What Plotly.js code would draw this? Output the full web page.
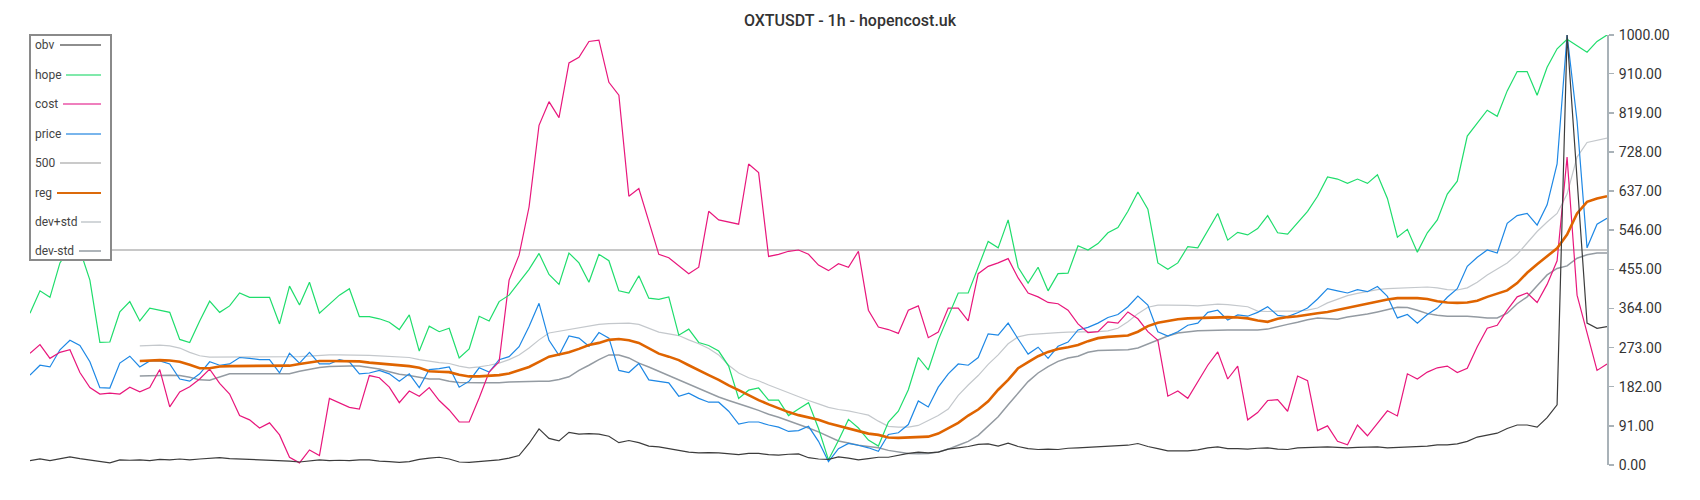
<!DOCTYPE html>
<html><head><meta charset="utf-8">
<script src="https://cdn.plot.ly/plotly-3.0.1.min.js"></script>
<style>html,body{margin:0;padding:0;background:#fff}#chart{width:1700px;height:500px}</style>
</head><body><div id="chart"></div>
<script>
// ---- data ----
const seriesNames = ["obv","hope","cost","price","500","reg","dev+std","dev-std"];
const hope = [353,405,390,470,505,500,430,285,286,356,
380,335,365,360,355,292,285,335,381,355,
370,400,390,390,390,328,416,372,425,353,
375,395,410,345,345,340,332,315,349,265,
323,310,318,249,270,346,335,380,395,425,
455,492,443,420,493,470,425,490,475,405,
400,440,388,385,391,302,316,285,278,265,
230,155,174,179,151,151,115,130,145,85,
12,57,106,86,58,44,100,125,175,250,
221,291,345,400,400,460,520,505,570,460,
423,460,405,445,446,510,500,515,540,552,
590,635,595,470,455,470,508,505,545,585,
523,541,535,550,580,540,537,563,590,625,
670,665,655,665,655,675,620,530,548,495,
540,570,630,660,765,795,825,811,870,915,
915,860,925,968,990,975,960,985,1000];
const cost = [260,280,248,262,268,215,180,165,167,165,
181,170,180,222,135,170,182,200,223,190,
165,115,105,86,98,70,18,5,35,22,
155,145,134,130,208,203,181,145,172,160,
180,150,128,100,100,156,216,240,430,488,
600,790,845,808,935,948,985,988,890,860,
625,643,565,490,482,463,445,460,590,570,
565,560,700,680,485,490,497,500,490,465,
452,468,460,497,360,321,315,306,360,370,
296,309,365,365,335,445,462,470,480,435,
400,391,378,375,360,328,308,310,333,330,
356,340,310,290,160,172,155,195,232,263,
200,230,105,122,150,152,125,207,196,80,
91,55,47,93,68,97,126,114,212,200,
216,226,230,215,225,275,318,325,360,391,
400,378,420,475,716,395,310,220,235];
const price = [209,232,228,268,290,278,240,180,179,237,
253,228,242,242,235,200,195,212,240,232,
235,250,248,245,245,214,260,237,262,235,
235,245,240,212,214,220,212,195,212,180,
222,224,228,181,195,226,216,245,252,275,
322,376,290,255,300,295,276,308,295,220,
215,236,198,195,191,160,167,155,146,146,
125,95,100,100,93,88,78,80,90,55,
8,38,50,46,40,32,71,75,94,149,
135,181,212,235,232,250,305,302,330,293,
258,274,248,276,286,314,320,330,343,350,
368,393,372,310,300,310,325,330,355,360,
337,349,346,355,368,348,345,354,365,386,
410,405,400,408,403,415,392,342,350,330,
350,365,390,410,462,483,500,493,562,580,
585,558,605,700,1000,800,505,560,574];
const obv = [10,14,10,15,19,15,12,8,5,12,
11,12,10,13,12,14,12,14,16,17,
15,14,14,13,12,10,9,7,10,12,
10,11,10,12,12,9,8,6,8,13,
16,18,14,7,6,8,9,12,16,22,
50,84,62,56,76,72,73,72,67,52,
57,52,44,42,38,34,30,28,29,28,
26,24,27,27,24,23,25,26,17,14,
13,19,16,12,15,18,18,23,27,30,
28,30,37,40,43,48,49,44,51,43,
38,36,37,36,39,40,41,42,43,44,
46,50,43,38,33,33,33,35,40,42,
38,38,37,39,40,37,36,40,41,42,
42,41,40,41,42,42,40,41,42,42,
44,47,47,49,55,65,70,74,85,93,
93,88,110,140,1000,660,330,318,322];
const reg = [null,null,null,null,null,null,null,null,null,null,
null,242,243,244,243,240,233,225,225,229,
230,230,230,230,230,230,231,235,238,242,
242,242,242,241,238,236,235,232,230,226,
218,217,216,210,206,206,207,209,213,220,
228,240,252,257,262,270,279,284,291,293,
290,284,272,259,252,244,232,220,209,198,
185,174,162,151,141,132,123,116,111,105,
97,91,84,78,73,70,64,63,64,65,
66,73,85,98,115,129,148,175,198,225,
239,253,263,270,274,279,288,295,298,300,
301,310,323,331,335,339,341,342,342,344,
344,343,341,336,333,340,344,346,350,353,
356,361,365,370,376,380,385,388,388,388,
386,381,378,377,378,382,391,398,406,423,
447,467,485,504,536,585,612,620,625];
const devPlus = [null,null,null,null,null,null,null,null,null,null,
null,277,278,279,277,272,262,254,251,251,
251,251,251,251,251,251,251,252,253,255,
256,256,256,256,255,254,253,252,250,245,
241,238,236,230,226,228,232,237,245,256,
272,291,307,311,315,320,323,327,329,330,
330,327,318,309,305,301,291,282,271,256,
232,214,203,196,186,177,168,158,150,142,
134,129,126,121,116,102,90,88,88,92,
103,115,130,162,186,208,234,256,282,298,
303,305,307,308,309,309,309,310,312,318,
333,352,367,372,372,372,371,370,372,374,
373,371,368,358,357,358,358,358,360,365,
377,386,394,399,404,408,410,411,411,412,
414,412,408,407,412,425,442,456,470,490,
516,543,565,585,630,716,750,755,760];
const devMinus = [null,null,null,null,null,null,null,null,null,null,
null,207,207,208,209,208,204,198,197,205,
212,212,212,212,212,212,212,218,223,227,
229,230,230,230,227,223,217,211,208,204,
200,200,195,192,191,191,191,191,193,194,
195,195,195,199,205,220,232,245,256,256,
249,237,228,218,207,197,188,178,167,158,
150,143,135,127,118,111,103,95,86,77,
66,56,51,46,43,40,34,30,27,26,
27,30,37,46,55,69,90,112,140,167,
194,214,229,241,249,253,262,266,267,267,
268,272,281,290,300,307,310,312,313,314,
314,314,314,314,316,322,327,332,338,342,
341,339,344,347,351,356,361,367,366,360,
352,348,346,346,346,344,342,342,353,375,
391,417,442,457,463,481,489,493,493];
const level500 = [500, 500];
const yTickValues = [0,91,182,273,364,455,546,637,728,819,910,1000];
const titleText = "OXTUSDT - 1h - hopencost.uk";

// ---- layout helpers ----
const N = hope.length;
const idx = hope.map((_, i) => i);
const W = 1700, H = 500, ML = 30, MR = 93, MT = 35, MB = 35;
const px = x => (x - ML) / (W - ML - MR);
const py = y => (H - MB - y) / (H - MT - MB);

const colors = {
  "obv": "#3c3c3c", "hope": "#1fdd6c", "cost": "#e8177c", "price": "#1e88e5",
  "500": "#c8c8c8", "reg": "#df6400", "dev+std": "#c4c8cc", "dev-std": "#949ba2"
};
const legendColors = {
  "obv": "#8e8e8e", "hope": "#80e9ab", "cost": "#ef7fbd", "price": "#79b5ec",
  "500": "#cacaca", "reg": "#dc6a0a", "dev+std": "#d2d6d9", "dev-std": "#aeb4b9"
};

function line(name, x, y, w) {
  return {type: "scatter", mode: "lines", name: name, x: x, y: y,
          line: {color: colors[name], width: w}, hoverinfo: "skip", showlegend: false, connectgaps: false};
}

const traces = [
  line("500", [idx[0], idx[N - 1]], level500, 2),
  line("dev+std", idx, devPlus, 1.2),
  line("dev-std", idx, devMinus, 1.5),
  line("price", idx, price, 1.2),
  line("cost", idx, cost, 1.2),
  line("hope", idx, hope, 1.2),
  line("reg", idx, reg, 2.6),
  line("obv", idx, obv, 1.2)
];

// custom legend (text left, line sample right)
const legY = [45, 75, 104, 134, 163, 193, 222, 251];
const legLineStart = [60, 66, 63, 66, 60, 57, 81, 79];
const shapes = [{
  type: "rect", xref: "paper", yref: "paper", layer: "above",
  x0: px(30), x1: px(111), y0: py(35), y1: py(260),
  line: {color: "#8a8a8a", width: 2}, fillcolor: "#ffffff"
}];
const annotations = [];
seriesNames.forEach((n, k) => {
  shapes.push({type: "line", xref: "paper", yref: "paper", layer: "above",
    x0: px(legLineStart[k]), x1: px(101), y0: py(legY[k]), y1: py(legY[k]),
    line: {color: legendColors[n], width: 2}});
  annotations.push({xref: "paper", yref: "paper", x: px(33), y: py(legY[k]),
    xanchor: "left", yanchor: "middle", showarrow: false, text: n,
    font: {family: "Roboto, sans-serif", size: 12, color: "#444"}});
});

const layout = {
  width: W, height: H,
  margin: {l: ML, r: MR, t: MT, b: MB, pad: 0},
  paper_bgcolor: "#ffffff", plot_bgcolor: "#ffffff",
  title: {text: titleText, x: 0.5, xref: "container", xanchor: "center",
          y: 1 - 20 / H, yref: "container", yanchor: "middle",
          font: {family: "Roboto, sans-serif", size: 16, color: "#333", weight: 500}},
  showlegend: false,
  hovermode: false,
  xaxis: {visible: false, range: [0, N - 1], showgrid: false, zeroline: false},
  yaxis: {side: "right", range: [0, 1000], tickvals: yTickValues,
          ticktext: yTickValues.map(v => v.toFixed(2)),
          ticks: "outside", ticklen: 5, tickwidth: 1.5, tickcolor: "#a9b2b8",
          showline: true, linecolor: "#a9b2b8", linewidth: 2,
          showgrid: false, zeroline: false, ticklabelstandoff: 2,
          tickfont: {family: "Roboto, sans-serif", size: 14, color: "#333"}},
  shapes: shapes,
  annotations: annotations
};

Plotly.newPlot("chart", traces, layout, {displayModeBar: false, staticPlot: true});
</script>
</body></html>
